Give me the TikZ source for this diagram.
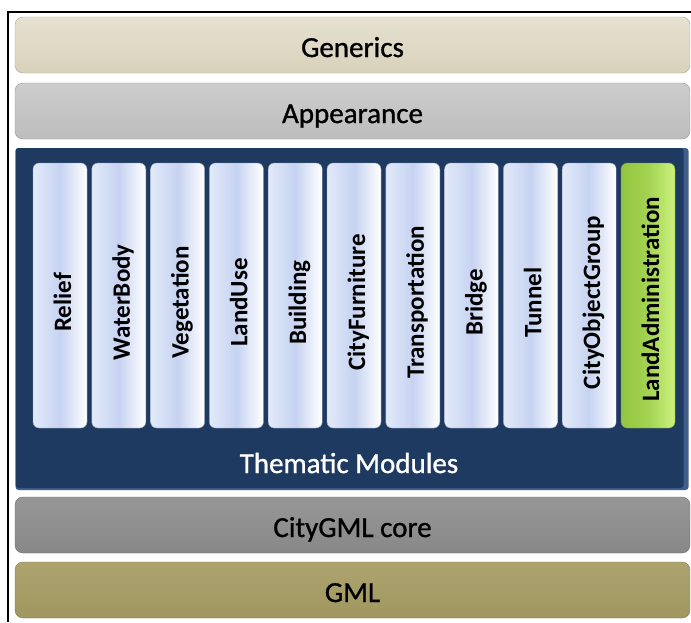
\documentclass[tikz,border=0pt]{standalone}
\usepackage{fontspec}
\setmainfont{Carlito}
\newfontfamily\barfont[FakeBold=1]{Carlito}
\usetikzlibrary{shadings,calc}
\definecolor{genc}{HTML}{D8D2BC}
\definecolor{genl}{HTML}{E6E1D0}
\definecolor{appc}{HTML}{BDBDBD}
\definecolor{appl}{HTML}{CDCDCD}
\definecolor{panelc}{HTML}{1F3A61}
\definecolor{panell}{HTML}{3F5E8A}
\definecolor{corec}{HTML}{888888}
\definecolor{corel}{HTML}{979797}
\definecolor{gmlc}{HTML}{A09660}
\definecolor{gmll}{HTML}{ADA46F}
\definecolor{colA}{HTML}{E2EAFA}
\definecolor{colB}{HTML}{C6D3F1}
\definecolor{grnA}{HTML}{92C63F}
\definecolor{grnB}{HTML}{CBF27E}
\tikzset{
  bar/.style={rounded corners=8pt, minimum width=675pt, minimum height=56pt,
    inner sep=0pt, text height=24pt, text depth=0pt,
    font=\barfont\fontsize{29}{32}\selectfont, text=black},
  modcol/.style={rounded corners=6pt, minimum width=54pt, minimum height=265pt,
    inner sep=0pt, left color=colA, right color=white, middle color=colB,
    draw=colB!75!black, line width=0.4pt},
  grncol/.style={modcol, left color=grnA, right color=grnB, middle color=grnA!70!grnB,
    draw=grnA!75!black},
  modlbl/.style={rotate=90, anchor=base, inner sep=0pt,
    font=\fontsize{25}{28}\selectfont\bfseries, text=black}
}
\begin{document}
\begin{tikzpicture}[x=1pt,y=-1pt]
\useasboundingbox (0,0) rectangle (691,622);
\fill[white] (0,0) rectangle (691,622);
% frame
\coordinate (ftr) at (691,12);
\coordinate (ftl) at (8,12);
\coordinate (fbl) at (8,622);
\draw[line width=2pt] (ftr) -- (ftl) -- (fbl);
% upper bars
\node[bar, top color=genl, bottom color=genc, draw=genc!80!black] (gen) at (352.5,45) {Generics};
\node[bar, top color=appl, bottom color=appc, draw=appc!80!black] (app) at (352.5,111) {Appearance};
% panel
\node[rounded corners=3pt, fill=panell, minimum width=673pt, minimum height=342pt, inner sep=0pt] (panelb) at (352,319) {};
\node[rounded corners=3pt, fill=panelc, minimum width=668pt, minimum height=340pt, inner sep=0pt] (panel) at (349.5,318) {};
\node[text=white, anchor=base, inner sep=0pt, font=\barfont\fontsize{29}{32}\selectfont] (them) at (349,473) {Thematic Modules};
% columns
\foreach \i/\x in {1/60,2/118.8,3/177.6,4/236.4,5/295.2,6/354,7/412.8,8/471.6,9/530.4,10/589.2}
  \node[modcol] (c\i) at (\x,295.5) {};
\node[grncol] (c11) at (648,295.5) {};
% column labels
\node[modlbl] (l1) at ($(c1.center)+(11,7)$) {Relief};
\node[modlbl] (l2) at ($(c2.center)+(11,7)$) {WaterBody};
\node[modlbl] (l3) at ($(c3.center)+(11,7)$) {Vegetation};
\node[modlbl] (l4) at ($(c4.center)+(11,7)$) {LandUse};
\node[modlbl] (l5) at ($(c5.center)+(11,7)$) {Building};
\node[modlbl] (l6) at ($(c6.center)+(11,7)$) {CityFurniture};
\node[modlbl] (l7) at ($(c7.center)+(11,7)$) {Transportation};
\node[modlbl] (l8) at ($(c8.center)+(11,7)$) {Bridge};
\node[modlbl] (l9) at ($(c9.center)+(11,7)$) {Tunnel};
\node[modlbl] (l10) at ($(c10.center)+(11,7)$) {CityObjectGroup};
\node[modlbl] (l11) at ($(c11.center)+(11,4)$) {LandAdministration};
% lower bars
\node[bar, top color=corel, bottom color=corec, draw=corec!80!black] (core) at (352.5,525) {CityGML core};
\node[bar, top color=gmll, bottom color=gmlc, draw=gmlc!80!black] (gml) at (352.5,590) {GML};
\end{tikzpicture}
\end{document}
